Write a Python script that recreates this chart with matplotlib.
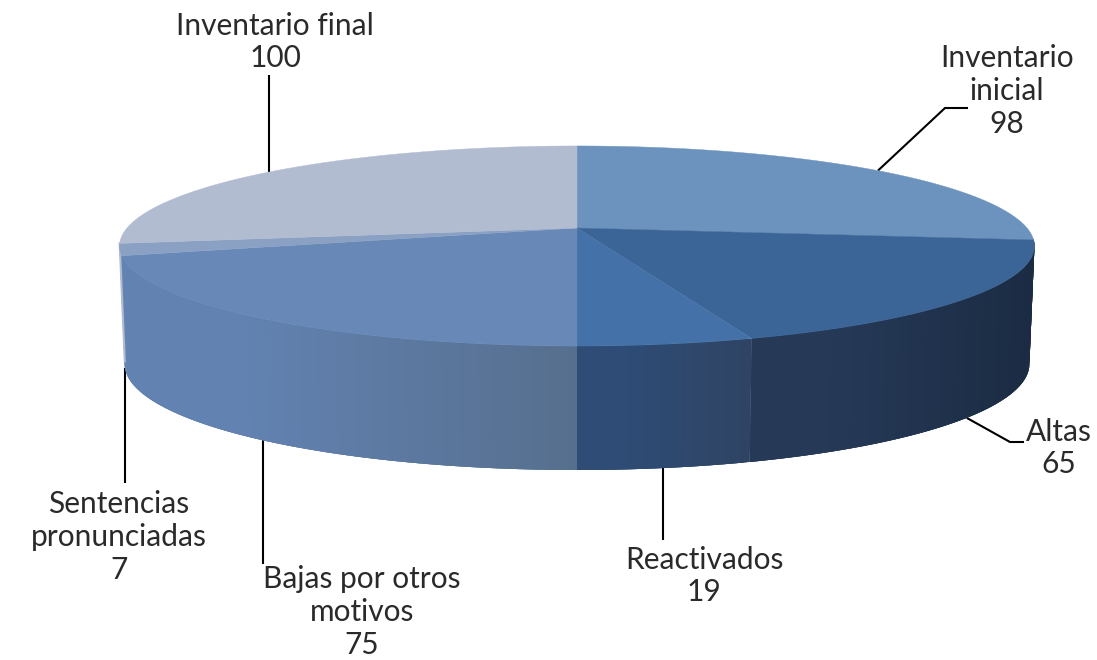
import numpy as np
import matplotlib
matplotlib.use('Agg')
import matplotlib.pyplot as plt
from matplotlib.colors import to_rgb

labels = ['Inventario\ninicial', 'Altas', 'Reactivados', 'Bajas por otros\nmotivos',
          'Sentencias\npronunciadas', 'Inventario final']
values = [98, 65, 19, 75, 7, 100]

top_colors = ['#6c93be', '#3b6497', '#4472a8', '#6888b8', '#8ba1c4', '#b2bcd1']
# wall colours: right and left end of each slice
wall_right = ['#1b2b43', '#1b2b43', '#2f4464', '#566f8e', '#6282b1', '#b2bcd1']
wall_left = ['#1b2b43', '#263a58', '#2e4c76', '#6282b1', '#6282b1', '#b2bcd1']

# label centre, and where the leader line goes after leaving the pie
label_pos = [(1007, 91), (1059, 448), (704, 576), (362, 612), (119, 537), (275, 42)]
leader_pts = [[(945, 108), (968, 108)], [(1010, 442), (1024, 442)], [(663, 540)],
              [(263, 564)], [(125, 483)], [(269, 75)]]
leader_on_base = [False, True, True, True, True, False]

# pie in pixels, with a little perspective
cx, cy = 577, 228
a, b = 450, 96.8
base_cy, base_a, base_b = 345, 445, 102.5
k = 0.18


def project(t, x0, y0, ax_r, ay_r):
    w = 1 + k * np.cos(t)
    return x0 + ax_r * np.sin(t) / w, y0 - ay_r * np.cos(t) / w


def top_pt(t):
    return project(t, cx, cy, a, b)


def base_pt(t):
    return project(t, cx, base_cy, base_a, base_b)


def mix(c1, c2, f):
    c1, c2 = np.array(to_rgb(c1)), np.array(to_rgb(c2))
    return c1 + (c2 - c1) * f


plt.rcParams['font.family'] = ['Lato', 'DejaVu Sans']
fig = plt.figure(figsize=(10.97, 6.6), dpi=100)
ax = fig.add_axes([0, 0, 1, 1])
ax.set_xlim(0, 1097)
ax.set_ylim(660, 0)
ax.axis('off')

edges = np.cumsum([0] + values) / sum(values) * 2 * np.pi

# side walls: overlapping strips so there are no seams between them
for i in range(len(values) - 1):
    t0 = max(edges[i], np.radians(96))
    t1 = edges[i + 1]
    if t1 <= t0:
        continue
    n = max(int(np.degrees(t1 - t0) * 3), 2)
    ts = np.linspace(t0, t1, n + 1)
    x_right = top_pt(t0)[0]
    x_left = top_pt(t1)[0]
    for j in range(n):
        t_next = ts[min(j + 3, n)]
        tx0, ty0 = top_pt(ts[j])
        tx1, ty1 = top_pt(t_next)
        bx0, by0 = base_pt(ts[j])
        bx1, by1 = base_pt(t_next)
        f = (x_right - tx0) / (x_right - x_left)
        # the left part of the big slice keeps its colour, shading sets in further right
        col = mix(wall_right[i], wall_left[i], min(f * 1.35, 1))
        ax.fill([tx0, tx1, bx1, bx0], [ty0, ty1, by1, by0], color=col, lw=0, zorder=2)

# light sliver of the last slice down the left edge
t_edge = edges[5]
ax.plot([top_pt(t_edge)[0], base_pt(t_edge)[0]], [top_pt(t_edge)[1], base_pt(t_edge)[1]],
        color='#b2bcd1', lw=1.5, zorder=2.5)

# top face
for i in range(len(values)):
    ts = np.linspace(edges[i], edges[i + 1], 120)
    x, y = top_pt(ts)
    ax.fill(np.r_[cx, x], np.r_[cy, y], color=top_colors[i], lw=0.3, zorder=3)

# leader lines and labels
for i in range(len(values)):
    mid = (edges[i] + edges[i + 1]) / 2
    start = base_pt(mid) if leader_on_base[i] else top_pt(mid)
    if len(leader_pts[i]) == 1:
        # straight down or up from the pie
        start = (leader_pts[i][0][0], start[1])
    pts = [start] + leader_pts[i]
    ax.plot([p[0] for p in pts], [p[1] for p in pts], color='black', lw=1.5, zorder=1,
            solid_capstyle='butt', solid_joinstyle='miter')
    ax.text(label_pos[i][0], label_pos[i][1], f'{labels[i]}\n{values[i]}', ha='center', va='center',
            fontsize=21.5, color='#2a2a2a', linespacing=1.2)

plt.savefig('out.png', dpi=100)
plt.close()
